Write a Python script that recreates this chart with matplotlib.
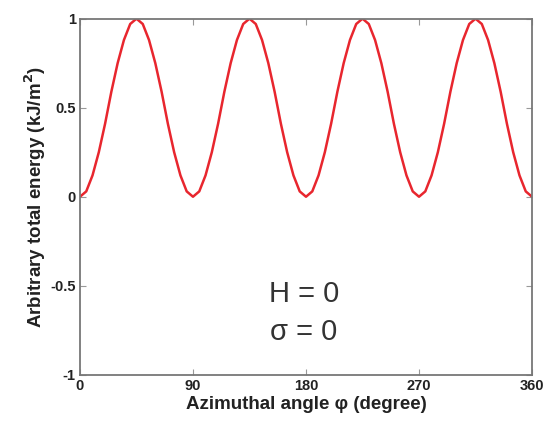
import matplotlib
matplotlib.use("Agg")
import matplotlib.pyplot as plt

plt.rcParams['font.family'] = ['Liberation Sans', 'DejaVu Sans']

# angle (degree) and energy, every 5 degrees
angle = [i * 5 for i in range(73)]
energy = [0.00, 0.03, 0.12, 0.25, 0.41, 0.59, 0.75, 0.88, 0.97,
          1.00, 0.97, 0.88, 0.75, 0.59, 0.41, 0.25, 0.12, 0.03,
          0.00, 0.03, 0.12, 0.25, 0.41, 0.59, 0.75, 0.88, 0.97,
          1.00, 0.97, 0.88, 0.75, 0.59, 0.41, 0.25, 0.12, 0.03,
          0.00, 0.03, 0.12, 0.25, 0.41, 0.59, 0.75, 0.88, 0.97,
          1.00, 0.97, 0.88, 0.75, 0.59, 0.41, 0.25, 0.12, 0.03,
          0.00, 0.03, 0.12, 0.25, 0.41, 0.59, 0.75, 0.88, 0.97,
          1.00, 0.97, 0.88, 0.75, 0.59, 0.41, 0.25, 0.12, 0.03,
          0.00]
xticks = [0, 90, 180, 270, 360]
yticks = [-1, -0.5, 0, 0.5, 1]
ytick_labels = ["-1", "-0.5", "0", "0.5", "1"]

fig = plt.figure(figsize=(5.44, 4.24), dpi=100)
ax = fig.add_axes([0.147, 0.116, 0.831, 0.840])
ax.plot(angle, energy, color="#e8262e", lw=1.8, solid_capstyle="round",
        solid_joinstyle="round")

ax.set_xlim(0, 360)
ax.set_ylim(-1, 1)
ax.set_xticks(xticks)
ax.set_xticklabels([str(t) for t in xticks], fontweight="bold", fontsize=10.5, color="#222222")
ax.set_yticks(yticks)
ax.set_yticklabels(ytick_labels, fontweight="bold", fontsize=10.5, color="#222222")
ax.tick_params(direction="in", top=True, right=True, length=4, color="#999999", pad=3)
for s in ax.spines.values():
    s.set_color("#777777")
    s.set_linewidth(1.3)

ax.set_xlabel("Azimuthal angle φ (degree)", fontweight="bold", fontsize=13.5,
              labelpad=2, color="#222222")
ax.set_ylabel(r"Arbitrary total energy (kJ/m$^\mathbf{2}$)", fontweight="bold", fontsize=13.5,
              labelpad=2, color="#222222")

ax.text(0.495, 0.228, "H = 0", transform=ax.transAxes, ha="center", va="center",
        fontsize=21, color="#333333")
ax.text(0.495, 0.121, "σ = 0", transform=ax.transAxes, ha="center", va="center",
        fontsize=21, color="#333333")

fig.savefig("out.png", dpi=100)
